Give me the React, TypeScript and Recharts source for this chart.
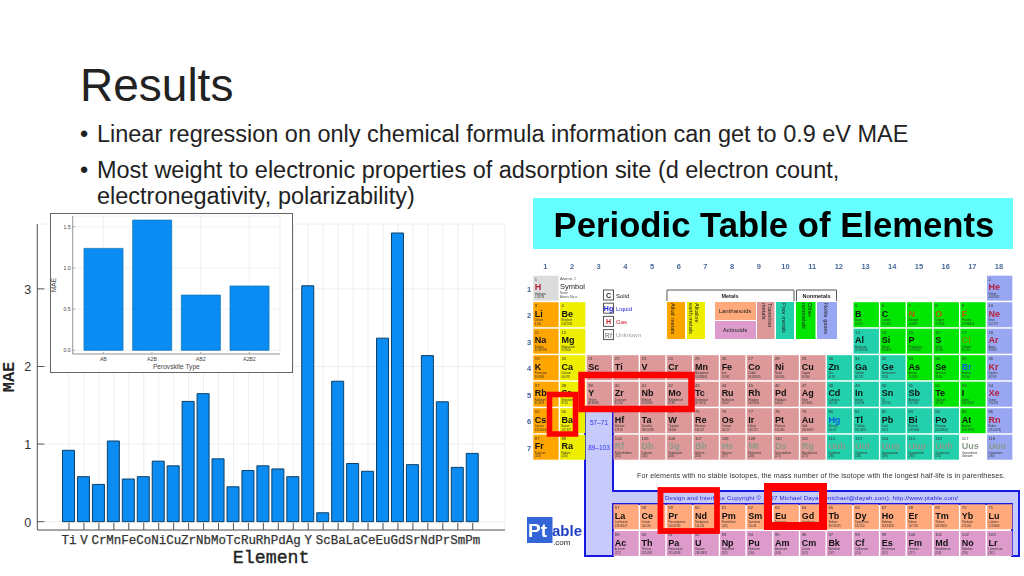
import React from 'react';
import { BarChart, Bar, XAxis, YAxis, CartesianGrid } from 'recharts';

const elementCategories = ['Ti','V','Cr','Mn','Fe','Co','Ni','Cu','Zr','Nb','Mo','Tc','Ru','Rh','Pd','Ag','Y','Sc','Ba','La','Ce','Eu','Gd','Sr','Nd','Pr','Sm','Pm'];
const elementMae = [0.92,0.58,0.48,1.04,0.55,0.58,0.78,0.72,1.55,1.65,0.81,0.45,0.66,0.72,0.68,0.58,3.04,0.115,1.81,0.75,0.65,2.365,3.72,0.735,2.14,1.545,0.7,0.88];
const elementTicks = [0,1,2,3];
const perovskiteTypes = ['AB','A2B','AB2','A2B2'];
const perovskiteMae = [1.237,1.58,0.67,0.78];
const perovskiteTicks = [0,0.5,1,1.5];

const elementData = elementCategories.map((name, i) => ({ name, mae: elementMae[i] }));
const perovskiteData = perovskiteTypes.map((name, i) => ({ name, mae: perovskiteMae[i] }));

const symbols = 'H He Li Be B C N O F Ne Na Mg Al Si P S Cl Ar K Ca Sc Ti V Cr Mn Fe Co Ni Cu Zn Ga Ge As Se Br Kr Rb Sr Y Zr Nb Mo Tc Ru Rh Pd Ag Cd In Sn Sb Te I Xe Cs Ba La Ce Pr Nd Pm Sm Eu Gd Tb Dy Ho Er Tm Yb Lu Hf Ta W Re Os Ir Pt Au Hg Tl Pb Bi Po At Rn Fr Ra Ac Th Pa U Np Pu Am Cm Bk Cf Es Fm Md No Lr Rf Db Sg Bh Hs Mt Ds Rg Uub Uut Uuq Uup Uuh Uus Uuo'.split(' ');
const names = 'Hydrogen Helium Lithium Beryllium Boron Carbon Nitrogen Oxygen Fluorine Neon Sodium Magnesium Aluminum Silicon Phosphorus Sulfur Chlorine Argon Potassium Calcium Scandium Titanium Vanadium Chromium Manganese Iron Cobalt Nickel Copper Zinc Gallium Germanium Arsenic Selenium Bromine Krypton Rubidium Strontium Yttrium Zirconium Niobium Molybdenum Technetium Ruthenium Rhodium Palladium Silver Cadmium Indium Tin Antimony Tellurium Iodine Xenon Cesium Barium Lanthanum Cerium Praseodymium Neodymium Promethium Samarium Europium Gadolinium Terbium Dysprosium Holmium Erbium Thulium Ytterbium Lutetium Hafnium Tantalum Tungsten Rhenium Osmium Iridium Platinum Gold Mercury Thallium Lead Bismuth Polonium Astatine Radon Francium Radium Actinium Thorium Protactinium Uranium Neptunium Plutonium Americium Curium Berkelium Californium Einsteinium Fermium Mendelevium Nobelium Lawrencium Rutherfordium Dubnium Seaborgium Bohrium Hassium Meitnerium Darmstadtium Roentgenium Ununbium Ununtrium Ununquadium Ununpentium Ununhexium Ununseptium Ununoctium'.split(' ');
const masses = '1.00794 4.002602 6.941 9.012182 10.811 12.0107 14.0067 15.9994 18.998403 20.1797 22.989769 24.3050 26.981538 28.0855 30.973762 32.065 35.453 39.948 39.0983 40.078 44.955912 47.867 50.9415 51.9961 54.938045 55.845 58.933195 58.6934 63.546 65.38 69.723 72.64 74.9216 78.96 79.904 83.798 85.4678 87.62 88.90585 91.224 92.90638 95.96 (97.9072) 101.07 102.9055 106.42 107.8682 112.411 114.818 118.710 121.760 127.60 126.90447 131.293 132.90545 137.327 138.90547 140.116 140.90765 144.242 (145) 150.36 151.964 157.25 158.92535 162.500 164.93032 167.259 168.93421 173.054 174.9668 178.49 180.94788 183.84 186.207 190.23 192.217 195.084 196.96657 200.59 204.3833 207.2 208.9804 (208.9824) (209.9871) (222.0176) (223) (226) (227) 232.0381 231.03588 238.02891 (237) (244) (243) (247) (247) (251) (252) (257) (258) (259) (262) (261) (262) (266) (264) (277) (268) (271) (272) (285) (284) (289) (288) (292) Unknown (294)'.split(' ');
const columnNumbers = [1,2,3,4,5,6,7,8,9,10,11,12,13,14,15,16,17,18];
const rowNumbers = [1,2,3,4,5,6,7];
const legendStates = [['C','Solid','#222'],['Hg','Liquid','#2222dd'],['H','Gas','#c8202a'],['Rf','Unknown','#999']];
const gases = ['H','He','N','O','F','Ne','Cl','Ar','Kr','Xe','Rn'];
const liquids = ['Br','Hg'];
const nonmetals = ['B','C','N','O','F','Si','P','S','Cl','As','Se','Br','Te','I','At'];
const poorMetals = ['Zn','Al','Ga','Ge','Cd','In','Sn','Sb','Hg','Tl','Pb','Bi','Po','Uub','Uut','Uuq','Uup','Uuh'];

const COLORS = { alkali:'#ffa500', earth:'#eeee00', trans:'#dd9999', poor:'#22d0ac', non:'#00e600', noble:'#99a6f2', lan:'#ffa97c', act:'#dd9bcb', h:'#dcdcdc' };

function position(z: number): [number, number] {
  if (z === 1) return [1, 1];
  if (z === 2) return [18, 1];
  if (z <= 4) return [z - 2, 2];
  if (z <= 10) return [z + 8, 2];
  if (z <= 12) return [z - 10, 3];
  if (z <= 18) return [z, 3];
  if (z <= 36) return [z - 18, 4];
  if (z <= 54) return [z - 36, 5];
  if (z <= 56) return [z - 54, 6];
  if (z <= 71) return [z - 53, 8];
  if (z <= 86) return [z - 68, 6];
  if (z <= 88) return [z - 86, 7];
  if (z <= 103) return [z - 85, 9];
  return [z - 100, 7];
}

function cellColor(sym: string, z: number) {
  if (sym === 'H') return COLORS.h;
  if (sym === 'Uus') return '#ffffff';
  if ([2,10,18,36,54,86,118].includes(z)) return COLORS.noble;
  if ([3,11,19,37,55,87].includes(z)) return COLORS.alkali;
  if ([4,12,20,38,56,88].includes(z)) return COLORS.earth;
  if (z >= 57 && z <= 71) return COLORS.lan;
  if (z >= 89 && z <= 103) return COLORS.act;
  if (nonmetals.includes(sym)) return COLORS.non;
  if (poorMetals.includes(sym)) return COLORS.poor;
  return COLORS.trans;
}

function symbolColor(sym: string, z: number) {
  if (gases.includes(sym)) return sym === 'N' || sym === 'O' || sym === 'F' ? '#b85a10' : sym === 'Cl' ? '#7a8a10' : '#b5203a';
  if (liquids.includes(sym)) return '#1060e0';
  if (z >= 104) return '#8a9a8a';
  return '#111';
}

const CW = 25.3, CH = 25, STEP_X = 26.69, STEP_Y = 26.5, X0 = 533.3, Y0 = 275.7;
const cellX = (c: number) => X0 + (c - 1) * STEP_X;
const cellY = (r: number) => (r === 8 ? 504.3 : r === 9 ? 531 : Y0 + (r - 1) * STEP_Y);

const SANS = '"Liberation Sans", Arial, sans-serif';
const MONO = '"Liberation Mono", "DejaVu Sans Mono", monospace';

function PeriodicTable() {
  return (
    <svg width={1024} height={576} style={{ position: 'absolute', left: 0, top: 0 }} fontFamily={SANS}>
      <g style={{ filter: 'blur(0.35px)' }}>
        <rect x={533} y={198} width={480} height={51} fill="#66ffff" />
        <text x={774} y={236.5} textAnchor="middle" fontSize={34.7} fontWeight="bold" fill="#000">Periodic Table of Elements</text>
        {columnNumbers.map(c => (
          <text key={c} x={cellX(c) + 12} y={269} textAnchor="middle" fontSize={7.5} fontWeight="bold" fill="#4a6a9c">{c}</text>
        ))}
        {rowNumbers.map(r => (
          <text key={r} x={529} y={cellY(r) + 16} textAnchor="middle" fontSize={7.5} fontWeight="bold" fill="#3f6296">{r}</text>
        ))}
        <path d="M585 410H613V491H1019V556H1012V504H613V556H585Z" fill="#c6cbfb" stroke="#1818e0" strokeWidth={2} />
        <text x={599} y={425} textAnchor="middle" fontSize={6.5} fill="#3333ee">57–71</text>
        <text x={599} y={450} textAnchor="middle" fontSize={6.5} fill="#3333ee">89–103</text>
        {symbols.map((sym, i) => {
          const z = i + 1;
          const [c, r] = position(z);
          const x = cellX(c), y = cellY(r);
          return (
            <g key={sym}>
              <rect x={x} y={y} width={CW} height={CH} fill={cellColor(sym, z)} />
              <text x={x + 1.5} y={y + 5} fontSize={4.2} fill="#333">{z}</text>
              <text x={x + 1.5} y={y + 14.5} fontSize={9} fontWeight="bold" fill={symbolColor(sym, z)}>{sym}</text>
              <text x={x + 1.5} y={y + 19} fontSize={2.6} fill="#333">{names[i]}</text>
              <text x={x + 1.5} y={y + 22.5} fontSize={2.6} fill="#333">{masses[i]}</text>
            </g>
          );
        })}
        <text x={560} y={280} fontSize={4.2} fill="#555">Atomic #</text>
        <text x={560} y={289} fontSize={7.5} fill="#222">Symbol</text>
        <text x={560} y={294} fontSize={3} fill="#555">Name</text>
        <text x={560} y={297.5} fontSize={3} fill="#555">Atomic Mass</text>
        {legendStates.map(([sym, label, color], i) => {
          const y = 290 + i * 13.2;
          return (
            <g key={sym}>
              <rect x={603.5} y={y} width={10} height={10} fill="#fff" stroke="#555" strokeWidth={1} />
              <text x={608.5} y={y + 8} textAnchor="middle" fontSize={7} fontWeight="bold" fill={color}>{sym}</text>
              <text x={616} y={y + 7.5} fontSize={6} fill={color}>{label}</text>
            </g>
          );
        })}
        <path d="M667 301V290H794V301" fill="none" stroke="#444" strokeWidth={0.9} />
        <text x={730} y={297.5} textAnchor="middle" fontSize={5.5} fontWeight="bold" fill="#222">Metals</text>
        <path d="M796.5 301V290H836.5V301" fill="none" stroke="#444" strokeWidth={0.9} />
        <text x={816.5} y={297.5} textAnchor="middle" fontSize={5.5} fontWeight="bold" fill="#222">Nonmetals</text>
        <rect x={667} y={302} width={18} height={37} fill={COLORS.alkali} />
        <rect x={687} y={302} width={18} height={37} fill={COLORS.earth} />
        <rect x={715} y={302} width={41} height={18} fill={COLORS.lan} />
        <rect x={715} y={321} width={41} height={18} fill={COLORS.act} />
        <rect x={757} y={302} width={17.5} height={37} fill={COLORS.trans} />
        <rect x={776} y={302} width={18} height={37} fill={COLORS.poor} />
        <rect x={796} y={302} width={19.5} height={37} fill={COLORS.non} />
        <rect x={817} y={302} width={20} height={37} fill={COLORS.noble} />
        <text x={735} y={313} textAnchor="middle" fontSize={6} fill="#222">Lanthanoids</text>
        <text x={735} y={332} textAnchor="middle" fontSize={6} fill="#222">Actinoids</text>
        <text transform="translate(671,303) rotate(90)" fontSize={5.6} fill="#222">Alkali metals</text>
        <text transform="translate(695,303) rotate(90)" fontSize={5.6} fill="#222">Alkaline</text>
        <text transform="translate(689,303) rotate(90)" fontSize={5.6} fill="#222">earth metals</text>
        <text transform="translate(768,303) rotate(90)" fontSize={5.6} fill="#222">Transition</text>
        <text transform="translate(762,303) rotate(90)" fontSize={5.6} fill="#222">metals</text>
        <text transform="translate(782,303) rotate(90)" fontSize={5.6} fill="#222">Poor metals</text>
        <text transform="translate(808,303) rotate(90)" fontSize={5.6} fill="#222">Other</text>
        <text transform="translate(802,303) rotate(90)" fontSize={5.6} fill="#222">nonmetals</text>
        <text transform="translate(824,303) rotate(90)" fontSize={5.6} fill="#222">Noble gases</text>
        <text x={637} y={478} fontSize={7.2} fill="#333" textLength={368}>For elements with no stable isotopes, the mass number of the isotope with the longest half-life is in parentheses.</text>
        <text x={665} y={500} fontSize={6.2} fill="#2424e0" textLength={293}>Design and Interface Copyright © 1997 Michael Dayah (michael@dayah.com). http://www.ptable.com/</text>
        <rect x={527} y={517} width={25.5} height={26} fill="#3465d8" />
        <text x={528} y={537} fontSize={19} fontWeight="bold" fill="#fff">Pt</text>
        <text x={552} y={536} fontSize={15} fontWeight="bold" fill="#1f3fc0">able</text>
        <text x={553} y={545} fontSize={8} fill="#222">.com</text>
      </g>
      <g fill="none" stroke="#ff0000">
        <rect x={581.5} y={375} width={110} height={34} strokeWidth={6.5} />
        <rect x={549.5} y={394.5} width={26} height={39.5} strokeWidth={5.5} />
        <rect x={660.5} y={490} width={56.5} height={41} strokeWidth={5.8} />
        <rect x={768} y={487} width={55} height={39} strokeWidth={8} />
      </g>
    </svg>
  );
}

const MainXTick = ({ x, y, payload }: any) => (
  <g>
    <line x1={x} x2={x} y1={y - 7} y2={y} stroke="#555" strokeWidth={1} />
    <text x={x} y={y + 13.5} textAnchor="middle" fontFamily={MONO} fontSize={12.5} fill="#333" stroke="#333" strokeWidth={0.25}>{payload.value}</text>
  </g>
);
const MainYTick = ({ x, y, payload }: any) => (
  <g>
    <line x1={x} x2={x + 7} y1={y} y2={y} stroke="#555" strokeWidth={1} />
    <text x={x - 6} y={y + 5} textAnchor="end" fontFamily={SANS} fontSize={12.5} fill="#333">{payload.value}</text>
  </g>
);
const InsetXTick = ({ x, y, payload }: any) => (
  <g>
    <line x1={x} x2={x} y1={y - 2} y2={y} stroke="#888" strokeWidth={0.6} />
    <text x={x} y={y + 6.5} textAnchor="middle" fontFamily={SANS} fontSize={5.2} fill="#444">{payload.value}</text>
  </g>
);
const InsetYTick = ({ x, y, payload }: any) => (
  <g>
    <line x1={x} x2={x + 2.5} y1={y} y2={y} stroke="#888" strokeWidth={0.6} />
    <text x={x - 2} y={y + 1.8} textAnchor="end" fontFamily={SANS} fontSize={5.2} fill="#444">{Number(payload.value).toFixed(1)}</text>
  </g>
);

const Bullet = ({ y, children }: { y: number; children: React.ReactNode }) => (
  <div style={{ position: 'absolute', left: 80, top: y, fontFamily: SANS, fontSize: 23.48, lineHeight: '26px', color: '#222', whiteSpace: 'nowrap' }}>{children}</div>
);

export default function App() {
  return (
    <div style={{ position: 'absolute', left: 0, top: 0, width: 1024, height: 576, background: '#fff', overflow: 'hidden' }}>
      <div style={{ position: 'absolute', left: 80, top: 57, fontFamily: SANS, fontSize: 46, lineHeight: '56px', color: '#222' }}>Results</div>
      <Bullet y={121}>•<span style={{ position: 'absolute', left: 17 }}>Linear regression on only chemical formula information can get to 0.9 eV MAE</span></Bullet>
      <Bullet y={157}>•<span style={{ position: 'absolute', left: 17 }}>Most weight to electronic properties of adsorption site (d electron count,</span></Bullet>
      <Bullet y={183}><span style={{ position: 'absolute', left: 17 }}>electronegativity, polarizability)</span></Bullet>

      <PeriodicTable />

      <div style={{ position: 'absolute', left: 0, top: 0 }}>
        <BarChart width={520} height={576} data={elementData} margin={{ top: 224, right: 15, bottom: 0, left: 0 }} barCategoryGap={0}>
          <CartesianGrid stroke="#eeeeee" strokeWidth={1} />
          <XAxis dataKey="name" interval={0} height={46} tickLine={false} tickSize={0} tickMargin={0} padding={{ left: 24.2, right: 24.8 }} stroke="#555" tick={MainXTick}
            label={{ value: 'Element', position: 'insideBottom', offset: 13, style: { fontFamily: MONO, fontSize: 18.3, fill: '#222', stroke: '#222', strokeWidth: 0.35 } }} />
          <YAxis width={37.3} domain={[-0.107, 3.836]} ticks={elementTicks} allowDataOverflow tickLine={false} tickSize={0} tickMargin={0} stroke="#555" tick={MainYTick}
            label={{ value: 'MAE', angle: -90, position: 'insideLeft', offset: 8, style: { fontFamily: MONO, fontSize: 17, fontWeight: 'bold', fill: '#222', textAnchor: 'middle' } }} />
          <Bar dataKey="mae" barSize={12} fill="#0a8cf2" stroke="#0d3f66" strokeWidth={1} isAnimationActive={false} />
        </BarChart>
      </div>

      <div style={{ position: 'absolute', left: 50, top: 213, width: 243, height: 160, background: '#fff' }}>
        <BarChart width={243} height={160} data={perovskiteData} margin={{ top: 3, right: 13, bottom: 0, left: 0 }} barCategoryGap={0}>
          <CartesianGrid stroke="#eeeeee" strokeWidth={0.8} />
          <XAxis dataKey="name" interval={0} height={19} tickLine={false} tickSize={0} tickMargin={0} padding={{ left: 6.3, right: 6.3 }} stroke="#999" tick={InsetXTick}
            label={{ value: 'Perovskite Type', position: 'insideBottom', offset: 4, style: { fontFamily: SANS, fontSize: 6.6, fill: '#444' } }} />
          <YAxis width={22.7} domain={[-0.045, 1.63]} ticks={perovskiteTicks} allowDataOverflow tickLine={false} tickSize={0} tickMargin={0} stroke="#999" tick={InsetYTick}
            label={{ value: 'MAE', angle: -90, position: 'insideLeft', offset: 4, style: { fontFamily: SANS, fontSize: 6.5, fill: '#444', textAnchor: 'middle' } }} />
          <Bar dataKey="mae" barSize={39} fill="#0a8cf2" stroke="#1277bb" strokeWidth={0.8} isAnimationActive={false} />
        </BarChart>
        <div style={{ position: 'absolute', left: 0, top: 0, width: 243, height: 160, boxSizing: 'border-box', border: '1.5px solid #666', pointerEvents: 'none' }} />
      </div>
    </div>
  );
}
